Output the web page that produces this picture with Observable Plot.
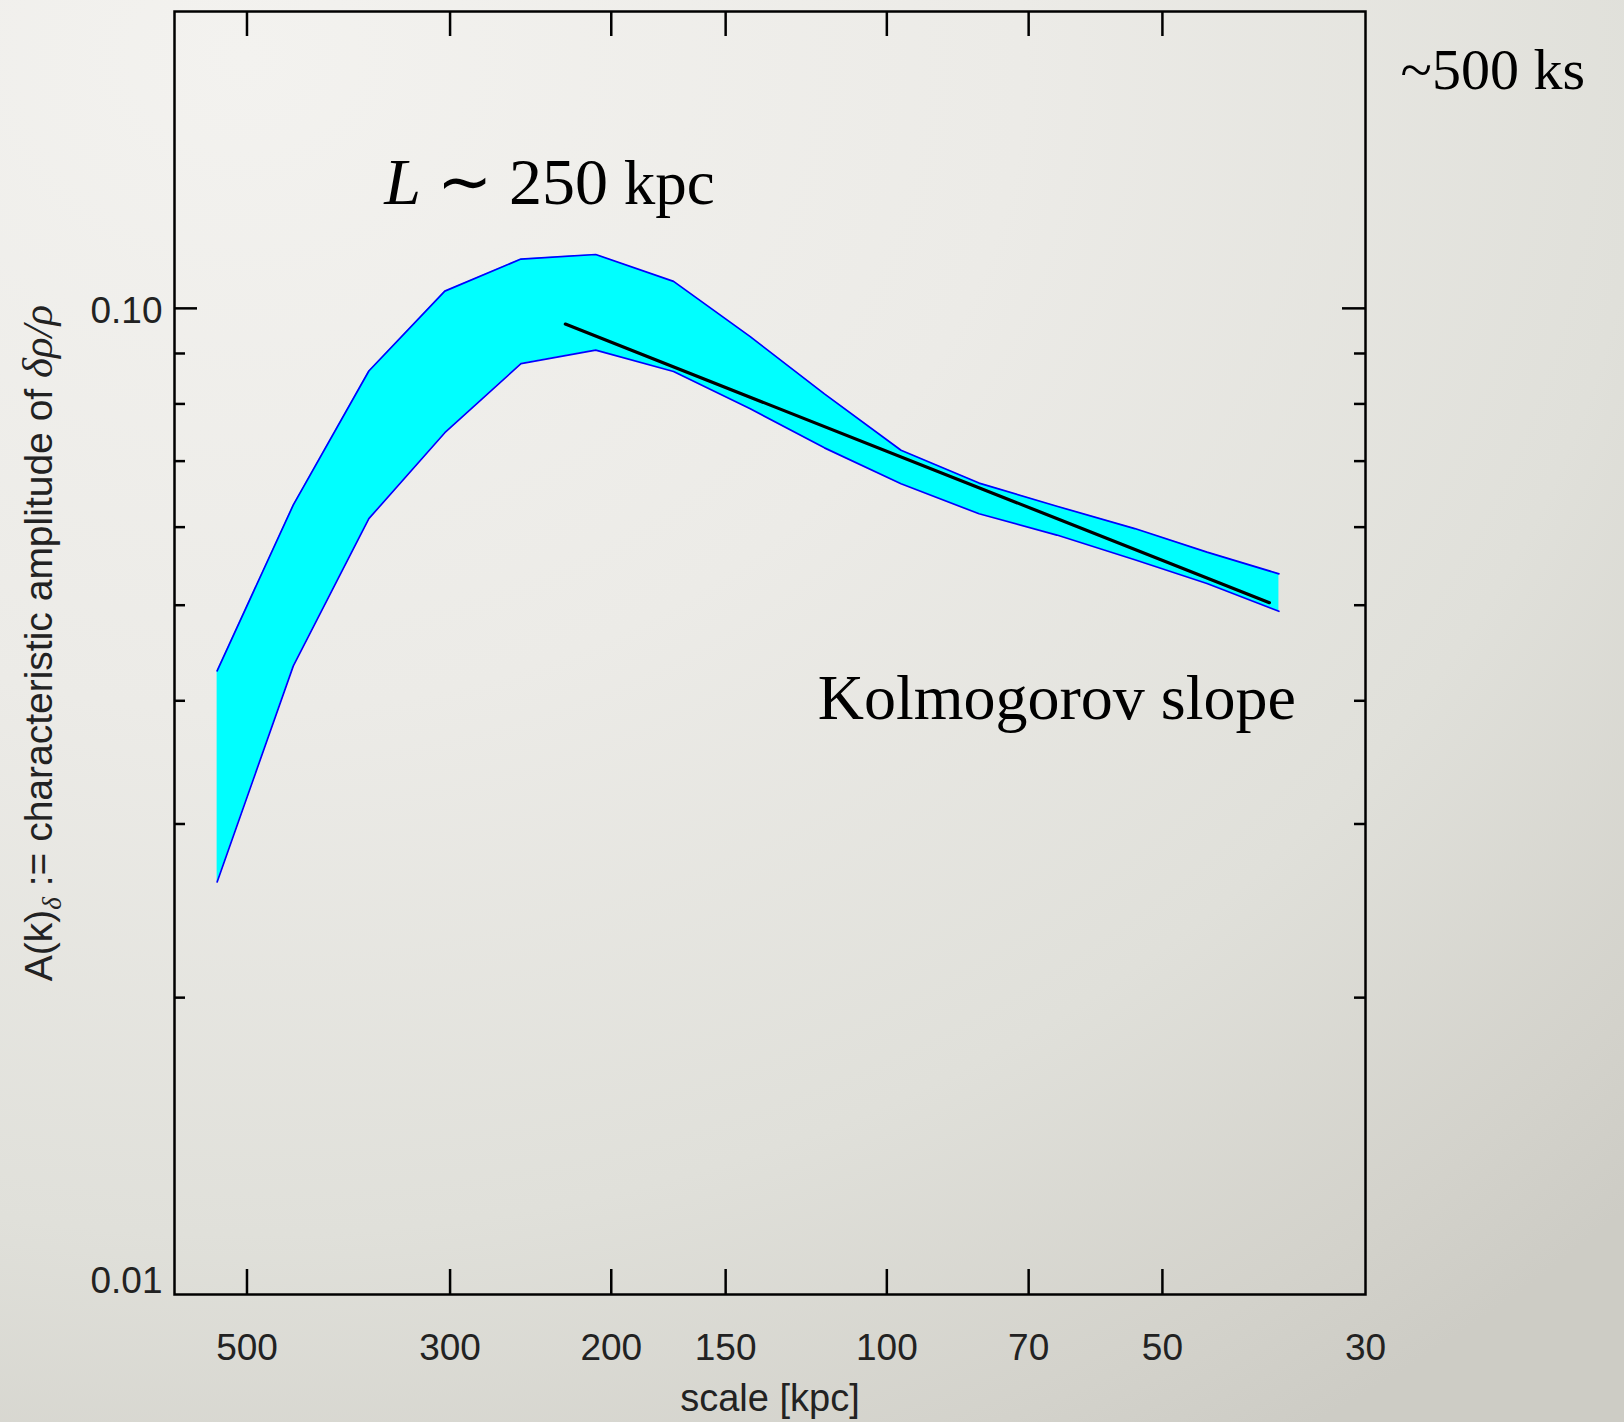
<!DOCTYPE html>
<html>
<head>
<meta charset="utf-8">
<script src="https://cdn.jsdelivr.net/npm/d3@7"></script>
<script src="https://cdn.jsdelivr.net/npm/@observablehq/plot@0.6"></script>
<style>
  html, body { margin: 0; padding: 0; }
  body {
    width: 1624px; height: 1422px; overflow: hidden;
    background: radial-gradient(ellipse 120% 115% at 15% 4%, #f3f2ef 0%, #ecebe7 40%, #e0e0da 72%, #d3d2cb 92%, #cdccc5 100%);
  }
  #chart svg { display: block; }
</style>
</head>
<body>
<div id="chart"></div>
<script>
// ---- data ----
const scaleKpc = [539, 445, 368, 304, 251, 208, 171, 141, 117, 96.5, 79.3, 65.2, 53.6, 44.7, 37.3];
const ampUpper = [0.0429, 0.0632, 0.0864, 0.1041, 0.1122, 0.1134, 0.1065, 0.0936, 0.0819, 0.0718, 0.0665, 0.0630, 0.0598, 0.0566, 0.0538];
const ampLower = [0.0262, 0.0434, 0.0612, 0.0748, 0.0879, 0.0907, 0.0863, 0.0791, 0.0722, 0.0664, 0.0619, 0.0589, 0.0556, 0.0526, 0.0493];

const slopeScale = [224.5, 38.2];
const slopeAmp = [0.0964, 0.0503];

const xTickValues = [500, 300, 200, 150, 100, 70, 50];
const xTickLabels = [500, 300, 200, 150, 100, 70, 50, 30];
const yMajorTicks = [0.1];
const yMinorTicks = [0.09, 0.08, 0.07, 0.06, 0.05, 0.04, 0.03, 0.02];

const noteText = ["L ∼ 250 kpc", "Kolmogorov slope"];
const noteScale = [354, 119];
const noteAmp = [0.1276, 0.0383];

const xLabel = "scale [kpc]";
const yLabel = "A(k)δ := characteristic amplitude of δρ/ρ";
const exposureText = "~500 ks";

// ---- tables built from the arrays ----
const band = scaleKpc.map((s, i) => ({scale: s, hi: ampUpper[i], lo: ampLower[i]}));
const slope = slopeScale.map((s, i) => ({scale: s, amp: slopeAmp[i]}));
const notes = noteText.map((t, i) => ({text: t, scale: noteScale[i], amp: noteAmp[i]}));

const W = 1624, H = 1422;
const mL = 174, mR = 259, mT = 11, mB = 128;
const innerW = W - mL - mR, innerH = H - mT - mB;

const svg = Plot.plot({
  width: W, height: H,
  marginLeft: mL, marginRight: mR, marginTop: mT, marginBottom: mB,
  style: {background: "transparent", color: "#222", fontFamily: "'Liberation Sans', Arial, Helvetica, sans-serif"},
  x: {type: "log", domain: [600, 30]},
  y: {type: "log", domain: [0.01, 0.2]},
  marks: [
    Plot.areaY(band, {x: "scale", y1: "lo", y2: "hi", fill: "#00ffff"}),
    Plot.line(band, {x: "scale", y: "hi", stroke: "#0000ff", strokeWidth: 1.7}),
    Plot.line(band, {x: "scale", y: "lo", stroke: "#0000ff", strokeWidth: 1.7}),
    Plot.line(slope, {x: "scale", y: "amp", stroke: "black", strokeWidth: 3.2}),
    // inward ticks: bottom and top
    Plot.tickX(xTickValues, {x: d => d, stroke: "black", strokeWidth: 2.5, insetTop: innerH - 25}),
    Plot.tickX(xTickValues, {x: d => d, stroke: "black", strokeWidth: 2.5, insetBottom: innerH - 25}),
    // inward ticks: left and right
    Plot.tickY(yMajorTicks, {y: d => d, stroke: "black", strokeWidth: 2.5, insetRight: innerW - 23}),
    Plot.tickY(yMinorTicks, {y: d => d, stroke: "black", strokeWidth: 2.5, insetRight: innerW - 11}),
    Plot.tickY(yMajorTicks, {y: d => d, stroke: "black", strokeWidth: 2.5, insetLeft: innerW - 23}),
    Plot.tickY(yMinorTicks, {y: d => d, stroke: "black", strokeWidth: 2.5, insetLeft: innerW - 11}),
    Plot.frame({stroke: "black", strokeWidth: 2.5}),
    // tick labels
    Plot.axisX({ticks: xTickLabels, tickSize: 0, tickPadding: 39, tickFormat: d => String(d), fontSize: 37, label: null}),
    Plot.axisY({ticks: [0.1], tickSize: 0, tickPadding: 12, tickFormat: d3.format(".2f"), fontSize: 37, dy: 3, label: null}),
    Plot.axisY({ticks: [0.01], tickSize: 0, tickPadding: 12, tickFormat: d3.format(".2f"), fontSize: 37, dy: -13, label: null}),
    // axis titles
    Plot.text([xLabel], {text: d => d, frameAnchor: "bottom", dy: 104, lineAnchor: "middle", textAnchor: "middle", fontSize: 38, fill: "#222"}),
    Plot.text([yLabel], {text: d => d, frameAnchor: "left", dx: -135, dy: -10, rotate: -90, lineAnchor: "middle", textAnchor: "middle", fontSize: 39, fill: "#222"}),
    // annotations
    Plot.text(notes.slice(0, 1), {x: "scale", y: "amp", text: "text", textAnchor: "start", lineAnchor: "bottom", fontSize: 66, fontFamily: "'Liberation Serif', 'Times New Roman', serif", fill: "black"}),
    Plot.text(notes.slice(1), {x: "scale", y: "amp", text: "text", textAnchor: "start", lineAnchor: "bottom", fontSize: 64, fontFamily: "'Liberation Serif', 'Times New Roman', serif", fill: "black"}),
    Plot.text([exposureText], {text: d => d, frameAnchor: "top-right", dx: 35, dy: 77, textAnchor: "start", lineAnchor: "bottom", fontSize: 58, fontFamily: "'Liberation Serif', 'Times New Roman', serif", fill: "black"})
  ]
});

// rich text for math-like labels
function rich(el, parts) {
  el.textContent = "";
  const sel = d3.select(el);
  for (const p of parts) {
    const ts = sel.append("tspan").text(p.text);
    if (p.attrs) for (const k in p.attrs) ts.attr(k, p.attrs[k]);
  }
}
d3.select(svg).selectAll("text").each(function() {
  const t = this.textContent;
  if (t === yLabel) {
    rich(this, [
      {text: "A(k)"},
      {text: "δ", attrs: {"font-style": "italic", "font-family": "'Liberation Serif', serif", "font-size": 27, dy: 9}},
      {text: " := characteristic amplitude of ", attrs: {dy: -9}},
      {text: "δρ/ρ", attrs: {"font-style": "italic", "font-family": "'Liberation Serif', serif", "font-size": 43}}
    ]);
  } else if (t === noteText[0]) {
    rich(this, [
      {text: "L", attrs: {"font-style": "italic"}},
      {text: " ∼ 250"},
      {text: " kpc", attrs: {"font-size": 63}}
    ]);
  }
});

document.getElementById("chart").appendChild(svg);
</script>
</body>
</html>
